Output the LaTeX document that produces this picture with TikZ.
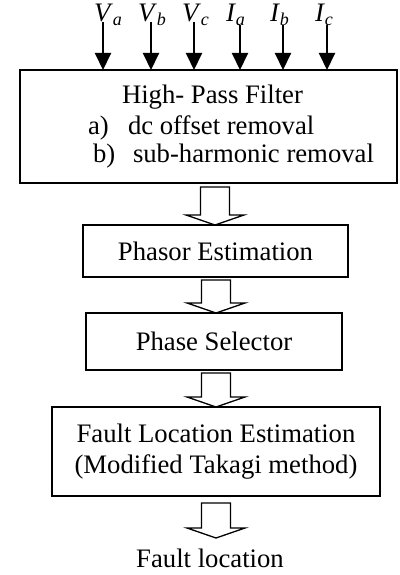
\documentclass[tikz,border=0pt]{standalone}
\usepackage{fontspec}
\setmainfont{Liberation Serif}
\usetikzlibrary{arrows.meta,calc}

\newcommand{\qsym}[2]{\textit{#1}\raisebox{-4pt}{\fontsize{18}{18}\selectfont\textit{#2}}}

\tikzset{
  box/.style={draw, line width=2pt, inner sep=0pt, outer sep=0pt, align=center},
  txt/.style={inner sep=0pt, outer sep=0pt, anchor=base west},
  inarrow/.style={line width=2pt, -{Triangle[length=17pt,width=16pt]}},
  blockarrow/.style={draw, line width=1.3pt, line join=miter, to path={
    let \p1=(\tikztostart), \p2=(\tikztotarget) in
    (\x1-14.5pt,\y1) -- (\x1+14.5pt,\y1) -- (\x1+14.5pt,\y2+10pt)
    -- (\x1+29pt,\y2+10pt) -- (\x1,\y2) -- (\x1-29pt,\y2+10pt)
    -- (\x1-14.5pt,\y2+10pt) -- cycle}}
}

\begin{document}
\begin{tikzpicture}[x=1pt, y=-1pt, font=\fontsize{26.7}{31}\selectfont]
\useasboundingbox (0,0) rectangle (399,575);

% processing blocks
\node[box, minimum width=377pt, minimum height=113pt] (hpf) at (208.5,126.5) {};
\node[box, minimum width=265pt, minimum height=52pt] (pe) at (215.5,251) {Phasor Estimation};
\node[box, minimum width=256pt, minimum height=57pt] (ps) at (214,341.5) {Phase Selector};
\node[box, minimum width=328pt, minimum height=89pt] (fle) at (216,451.5)
  {Fault Location Estimation\\(Modified Takagi method)};

% filter description
\node[txt] (hpft) at (122,104) {High- Pass Filter};
\node[txt] (ia) at (88,134) {a)};
\node[txt] (iat) at (128,134) {dc offset removal};
\node[txt] (ib) at (93,162) {b)};
\node[txt] (ibt) at (133,162) {sub-harmonic removal};

% output
\node[inner sep=0pt, anchor=base] (out) at (210,567) {Fault location};

% measured inputs
\node[txt] (lva) at (94,22) {\qsym{V}{a}};
\node[txt] (lvb) at (138,22) {\qsym{V}{b}};
\node[txt] (lvc) at (182,22) {\qsym{V}{c}};
\node[txt] (lia) at (226,22) {\qsym{I}{a}};
\node[txt] (lib) at (270,22) {\qsym{I}{b}};
\node[txt] (lic) at (315,22) {\qsym{I}{c}};

\coordinate (sva) at (103,22);
\coordinate (svb) at (151,22);
\coordinate (svc) at (194,22);
\coordinate (sia) at (240,25);
\coordinate (sib) at (283,25);
\coordinate (sic) at (327,25);
\foreach \s in {sva,svb,svc,sia,sib,sic}
  \draw[inarrow] (\s) -- (\s |- hpf.north);

% flow between blocks
\coordinate (f1) at (215,187);
\coordinate (f2) at (216,280);
\coordinate (f3) at (216,373);
\coordinate (f4) at (216,503);
\coordinate (f4e) at (216,538);
\draw[blockarrow] (f1) to (f1 |- pe.north);
\draw[blockarrow] (f2) to (f2 |- ps.north);
\draw[blockarrow] (f3) to (f3 |- fle.north);
\draw[blockarrow] (f4) to (f4e);
\end{tikzpicture}
\end{document}
